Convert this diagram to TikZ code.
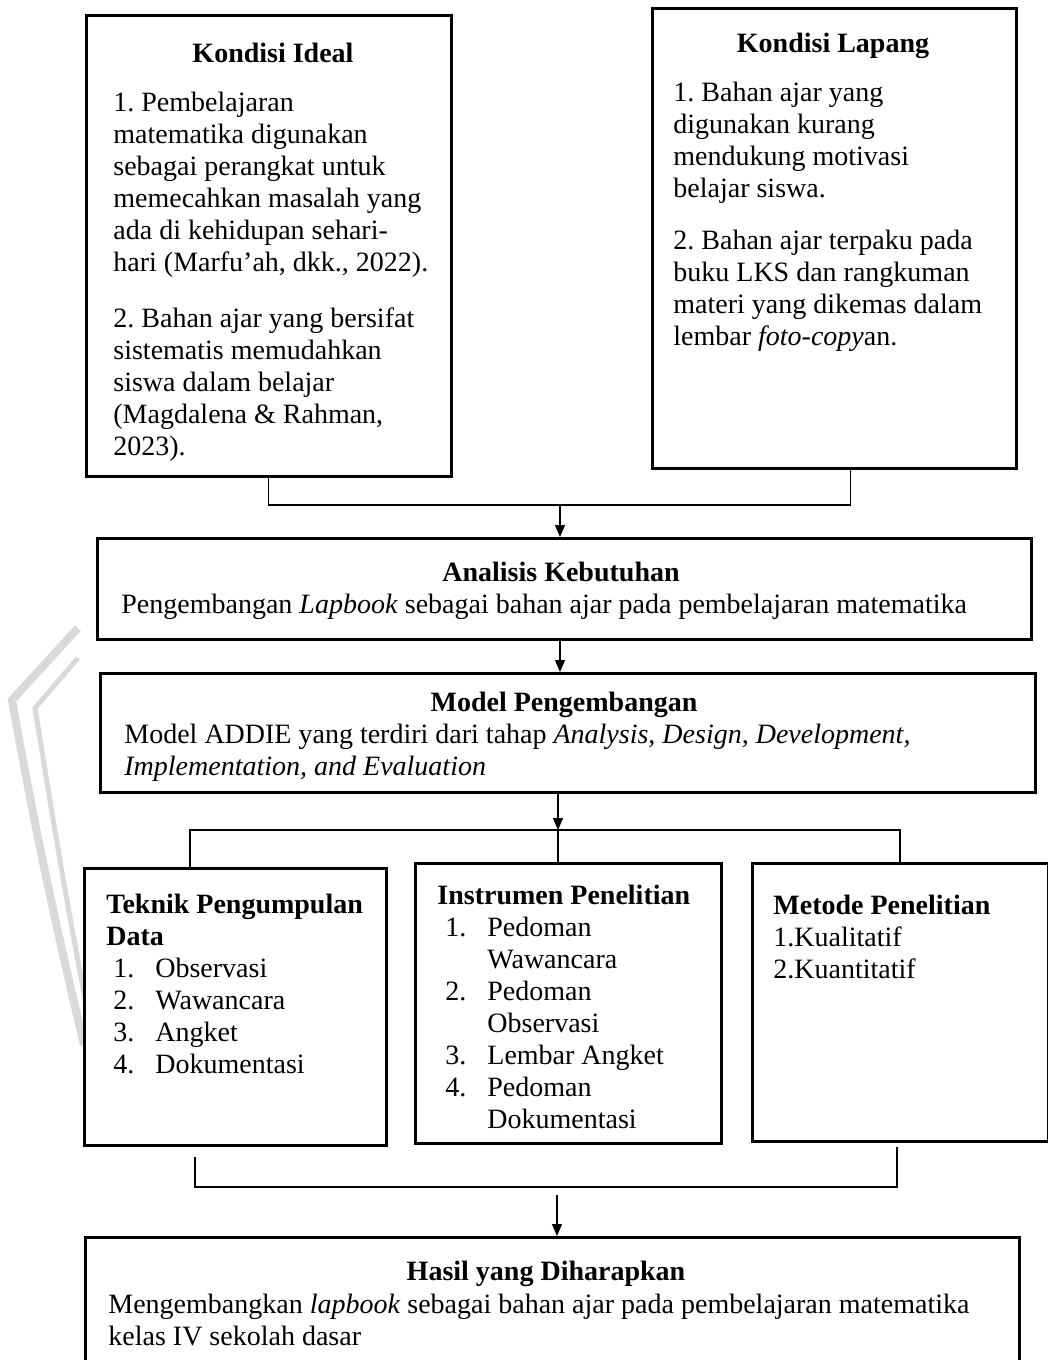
\documentclass[tikz,border=0pt]{standalone}
\usepackage{fontspec}
\setmainfont{Liberation Serif}
\usetikzlibrary{arrows.meta}
\frenchspacing
\newcommand{\butir}[1]{\makebox[21pt][l]{#1}}
\begin{document}
\begin{tikzpicture}
  [x=0.5pt,y=-0.5pt,
   font=\fontsize{14}{16}\selectfont,
   ukuran/.style 2 args={minimum width=#1*0.5pt,minimum height=#2*0.5pt},
   kotak/.style={draw,line width=1.25pt,fill=white,anchor=north west,inner sep=0pt},
   judul/.style={font=\fontsize{14}{16}\selectfont\bfseries,anchor=base,inner sep=0pt},
   isi/.style={align=left,anchor=north west,inner sep=0pt},
   garis/.style={line width=0.7pt},
   panah/.style={garis,-{Triangle[length=6pt,width=5pt]}}]
  \useasboundingbox (0,0) rectangle (1048,1360);

  \draw [gray!30,line width=4pt]
    (78,628)
    -- (12,700)
      .. controls (30,800) and (45,880)
    .. (84,1045)
  ;
  \draw [gray!30,line width=2.5pt]
    (78,658)
    -- (35,708)
      .. controls (50,800) and (62,880)
    .. (92,1035)
  ;

  \node [kotak,ukuran={365}{461}] (ideal) at (85,14) {};
  \node [kotak,ukuran={364}{460}] (lapang) at (651,7) {};
  \node [kotak,ukuran={934}{101}] (analisis) at (96,537) {};
  \node [kotak,ukuran={935}{119}] (model) at (99,672) {};
  \node [kotak,ukuran={302}{277}] (teknik) at (83,867) {};
  \node [kotak,ukuran={306}{280}] (instrumen) at (414,862) {};
  \node [kotak,ukuran={296}{278}] (metode) at (751,862) {};
  \node [kotak,ukuran={934}{160}] (hasil) at (84,1236) {};

  \node [judul] (judulIdeal) at (273,62) {Kondisi Ideal};
  \node [isi] (isiIdeal) at (113,92)
    {1. Pembelajaran\\matematika digunakan\\sebagai perangkat untuk\\memecahkan masalah yang\\ada di kehidupan sehari-\\hari (Marfu’ah, dkk., 2022).\\[12pt]
     2. Bahan ajar yang bersifat\\sistematis memudahkan\\siswa dalam belajar\\(Magdalena \& Rahman,\\2023).};
  \node [judul] (judulLapang) at (833,52) {Kondisi Lapang};
  \node [isi] (isiLapang) at (673,82)
    {1. Bahan ajar yang\\digunakan kurang\\mendukung motivasi\\belajar siswa.\\[10pt]
     2. Bahan ajar terpaku pada\\buku LKS dan rangkuman\\materi yang dikemas dalam\\lembar \textit{foto-copy}an.};

  \node [judul] (judulAnalisis) at (561,581) {Analisis Kebutuhan};
  \node [isi,anchor=base west] (isiAnalisis) at (121,613)
    {Pengembangan \textit{Lapbook} sebagai bahan ajar pada pembelajaran matematika};
  \node [judul] (judulModel) at (564,711) {Model Pengembangan};
  \node [isi] (isiModel) at (124,724)
    {Model ADDIE yang terdiri dari tahap \textit{Analysis, Design, Development,}\\\textit{Implementation, and Evaluation}};

  \node [isi] (isiTeknik) at (106,894)
    {\textbf{Teknik Pengumpulan}\\\textbf{Data}\\
     \hspace*{3.5pt}\butir{1.}Observasi\\\hspace*{3.5pt}\butir{2.}Wawancara\\
     \hspace*{3.5pt}\butir{3.}Angket\\\hspace*{3.5pt}\butir{4.}Dokumentasi};
  \node [isi] (isiInstrumen) at (437,885)
    {\textbf{Instrumen Penelitian}\\
     \hspace*{4pt}\butir{1.}Pedoman\\\hspace*{4pt}\butir{}Wawancara\\
     \hspace*{4pt}\butir{2.}Pedoman\\\hspace*{4pt}\butir{}Observasi\\
     \hspace*{4pt}\butir{3.}Lembar Angket\\
     \hspace*{4pt}\butir{4.}Pedoman\\\hspace*{4pt}\butir{}Dokumentasi};
  \node [isi] (isiMetode) at (773,895)
    {\textbf{Metode Penelitian}\\1.Kualitatif\\2.Kuantitatif};

  \node [judul] (judulHasil) at (546,1280) {Hasil yang Diharapkan};
  \node [isi] (isiHasil) at (108,1294)
    {Mengembangkan \textit{lapbook} sebagai bahan ajar pada pembelajaran matematika\\kelas IV sekolah dasar};

  \coordinate (gabungAtas) at (560,505);
  \draw [garis]
    (ideal.south)
    |- (gabungAtas)
    -| ([xshift=8pt]lapang.south)
  ;
  \draw [panah] (gabungAtas) -- (gabungAtas |- analisis.north);
  \draw [panah] (gabungAtas |- analisis.south) -- (gabungAtas |- model.north);

  \coordinate (cabang) at (558,830);
  \coordinate (cabangKiri) at (190,830);
  \coordinate (cabangKanan) at (900,830);
  \draw [panah] (cabang |- model.south) -- (cabang);
  \draw [garis]
    (cabangKiri |- teknik.north)
    -- (cabangKiri)
    -- (cabangKanan)
    -- (cabangKanan |- metode.north)
  ;
  \draw [garis] (cabang) -- (cabang |- instrumen.north);

  \coordinate (ujungKiri) at (195,1157);
  \coordinate (ujungKanan) at (897,1147);
  \coordinate (gabungBawahKiri) at (195,1187);
  \coordinate (gabungBawahKanan) at (897,1187);
  \coordinate (gabungBawah) at (557,1195);
  \draw [garis]
    (ujungKiri)
    -- (gabungBawahKiri)
    -- (gabungBawahKanan)
    -- (ujungKanan)
  ;
  \draw [panah] (gabungBawah) -- (gabungBawah |- hasil.north);
\end{tikzpicture}
\end{document}
